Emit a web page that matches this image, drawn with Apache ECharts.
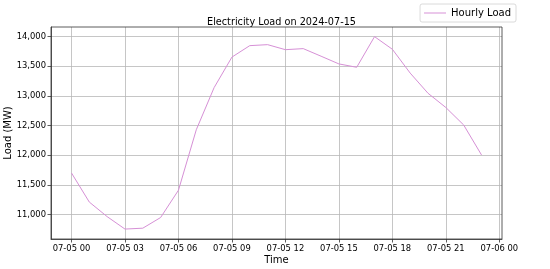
<!DOCTYPE html>
<html><head><meta charset="utf-8">
<script src="https://cdn.jsdelivr.net/npm/echarts@6/dist/echarts.min.js"></script>
<style>html,body{margin:0;padding:0;background:#fff}#c{width:550px;height:269px}</style>
</head><body><div id="c"></div>
<script>
var hours = [0,1,2,3,4,5,6,7,8,9,10,11,12,13,14,15,16,17,18,19,20,21,22,23];
var loadMW = [11700,11210,10965,10755,10770,10950,11410,12430,13140,13655,13848,13865,13780,13798,13670,13540,13483,14000,13787,13385,13045,12805,12510,12005];
var xTicks = [0,3,6,9,12,15,18,21,24];
var xTickLabels = ['07-05 00','07-05 03','07-05 06','07-05 09','07-05 12','07-05 15','07-05 18','07-05 21','07-06 00'];
var yTicks = [11000,11500,12000,12500,13000,13500,14000];

var font = 'DejaVu Sans';
var chart = echarts.init(document.getElementById('c'), null, {renderer:'canvas'});
var data = hours.map(function(h,i){return [h, loadMW[i]];});
chart.setOption({
  animation:false,
  backgroundColor:'#fff',
  title:{text:'Electricity Load on 2024-07-15', left:276.5, textAlign:'center', top:12,
    textStyle:{fontFamily:font, fontSize:9.7, fontWeight:'normal', color:'#000'}},
  legend:{right:34, top:4, itemWidth:22, itemHeight:1, itemGap:6,
    padding:[4,5,4,4], borderColor:'#d0d0d0', borderWidth:0.8, borderRadius:2,
    textStyle:{fontFamily:font, fontSize:10, color:'#000'},
    data:[{name:'Hourly Load', icon:'rect'}]},
  grid:{left:51, right:48, top:27, bottom:30, containLabel:false, outerBoundsMode:'none'},
  xAxis:{type:'value', min:-1.15, max:24.15,
    name:'Time', nameLocation:'middle', nameGap:16, nameMoveOverlap:false,
    nameTextStyle:{fontFamily:font, fontSize:10, color:'#000'},
    axisLine:{show:true, onZero:false, lineStyle:{color:'#333', width:0.8}},
    axisTick:{show:true, length:3.5, customValues:xTicks, lineStyle:{color:'#333', width:0.8}},
    axisLabel:{customValues:xTicks, fontFamily:font, fontSize:8.4, color:'#000', margin:6,
      formatter:function(v){var i=xTicks.indexOf(Math.round(v)); return i>=0?xTickLabels[i]:'';}},
    splitLine:{show:true, lineStyle:{color:'#b8b8b8', width:0.8}}},
  yAxis:{type:'value', min:10587.5, max:14162.5,
    name:'Load (MW)', nameLocation:'middle', nameGap:38, nameRotate:90, nameMoveOverlap:false,
    nameTextStyle:{fontFamily:font, fontSize:10, color:'#000'},
    axisLine:{show:true, onZero:false, lineStyle:{color:'#333', width:0.8}},
    axisTick:{show:true, length:3.5, customValues:yTicks, lineStyle:{color:'#333', width:0.8}},
    axisLabel:{customValues:yTicks, fontFamily:font, fontSize:8.4, color:'#000', margin:5,
      formatter:function(v){return v.toLocaleString('en-US');}},
    splitLine:{show:true, lineStyle:{color:'#b8b8b8', width:0.8}}},
  series:[{name:'Hourly Load', type:'line', data:data, showSymbol:false,
    lineStyle:{color:'#d690d6', width:1}, itemStyle:{color:'#d690d6'}}]
});
chart.setOption({graphic:[{type:'rect', shape:{x:51, y:27, width:451, height:212}, style:{fill:null, stroke:'#333', lineWidth:0.8}, silent:true, z:100}]});
</script></body></html>
